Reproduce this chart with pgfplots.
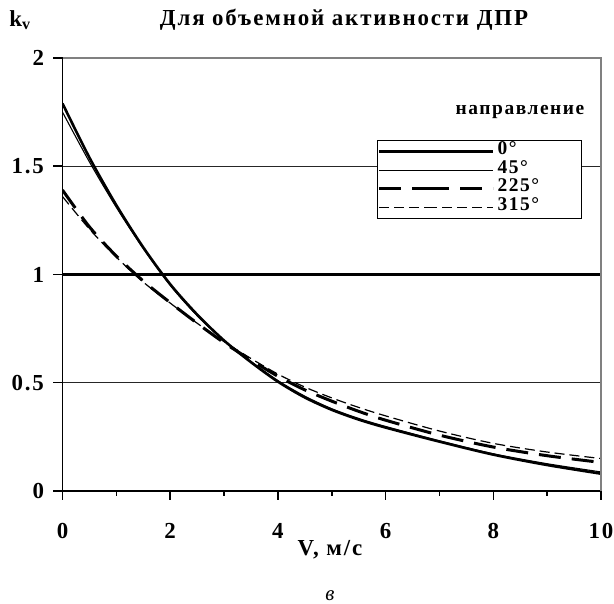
\documentclass[border=0pt]{standalone}
\usepackage{fontspec}
\setmainfont{Liberation Serif}
\newfontfamily\lsp{Liberation Serif}[LetterSpace=8]
\usepackage{pgfplots}
\pgfplotsset{compat=1.18}
\pgfplotstableread{
V a0 a45 a225 a315
0   1.79  1.75  1.39  1.36
0.5 1.54  1.52  1.22  1.21
1   1.32  1.31  1.085 1.08
1.5 1.125 1.12  0.97  0.965
2   0.955 0.95  0.87  0.868
2.5 0.815 0.81  0.775 0.775
3   0.695 0.695 0.685 0.69
3.5 0.595 0.598 0.605 0.612
4   0.505 0.51  0.53  0.54
4.5 0.432 0.438 0.467 0.48
5   0.375 0.38  0.415 0.43
5.5 0.33  0.335 0.368 0.386
6   0.293 0.298 0.327 0.347
7   0.228 0.232 0.258 0.277
8   0.168 0.172 0.203 0.22
9   0.12  0.126 0.163 0.18
10  0.08  0.088 0.132 0.15
}\data
\begin{document}
\begin{tikzpicture}[x=1bp,y=1bp]
\useasboundingbox (0,0) rectangle (614,604);
\begin{axis}[
  at={(62.5bp,113bp)}, anchor=south west,
  scale only axis, width=538.5bp, height=433bp,
  xmin=0, xmax=10, ymin=0, ymax=2,
  axis x line*=bottom, axis y line*=left,
  axis line style={black, line width=1.5bp},
  xtick={0,2,...,10},
  extra x ticks={1,3,5,7,9}, extra x tick labels={},
  extra x tick style={major tick length=5bp, grid=none},
  ytick={0,0.5,1.5,2},
  extra y ticks={1},
  extra y tick style={grid style={black, line width=3bp}},
  minor y tick num=4,
  tick align=outside,
  major tick length=9bp, minor tick length=10bp,
  every tick/.style={black, line width=1.5bp},
  ymajorgrids,
  grid style={black!85, line width=1.3bp},
  /pgf/number format/assume math mode=true,
  ticklabel style={font=\lsp\bfseries\fontsize{23}{23}\selectfont},
  yticklabel style={anchor=east, xshift=-6bp},
  xticklabel style={anchor=north, yshift=-20bp},
  legend cell align=left,
  legend style={at={(rel axis cs:0.584,0.811)}, anchor=north west,
    draw=black, line width=1.2bp, fill=white,
    inner xsep=0pt, inner ysep=2bp, row sep=0bp, column sep=3bp,
    font=\lsp\bfseries\fontsize{19.5}{19.5}\selectfont,
    nodes={inner sep=0pt, text height=12.5bp, text depth=6bp}},
  legend image code/.code={\path (-48bp,0) -- (0,0); \draw[#1] (0bp,0bp) -- (66bp,0bp);},
]
\addplot[black, line width=2.6bp, smooth] table[x=V, y=a0] {\data};
\addlegendentry{\makebox[84bp][l]{0°}}
\addplot[black, line width=1.1bp, smooth] table[x=V, y=a45] {\data};
\addlegendentry{\makebox[84bp][l]{45°}}
\addplot[black, line width=3bp, dash pattern=on 22bp off 11bp, smooth] table[x=V, y=a225] {\data};
\addlegendentry{\makebox[84bp][l]{225°}}
\addplot[black, line width=1.2bp, dash pattern=on 10bp off 5bp, smooth] table[x=V, y=a315] {\data};
\addlegendentry{\makebox[84bp][l]{315°}}
\end{axis}
\draw[gray, line width=1.5bp] (62.5,546) -- (601,546) -- (601,113);
\node[font=\lsp\bfseries\fontsize{19.5}{19.5}\selectfont] at (520,492) {направление};
\node[font=\lsp\bfseries\fontsize{23}{23}\selectfont] at (344,584) {Для объемной активности ДПР};
\node[font=\lsp\bfseries\fontsize{23}{23}\selectfont] at (20,584) {k\textsubscript{v}};
\node[font=\lsp\bfseries\fontsize{23}{23}\selectfont] at (330,54) {V, м/с};
\node[font=\itshape\fontsize{21}{21}\selectfont] at (330,8) {в};
\end{tikzpicture}
\end{document}
